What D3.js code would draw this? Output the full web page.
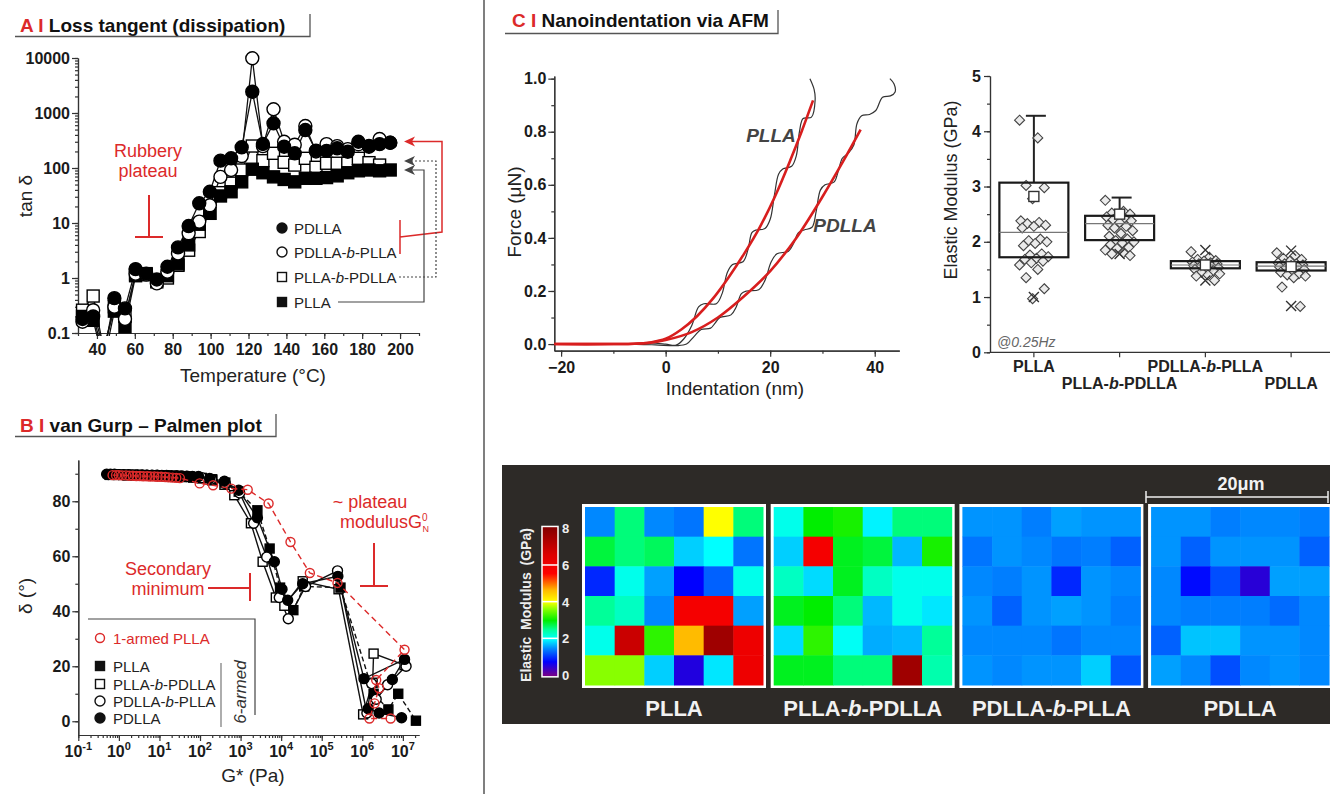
<!DOCTYPE html>
<html>
<head>
<meta charset="utf-8">
<title>Loss tangent, vGP plot and AFM nanoindentation</title>
<script src="https://cdn.jsdelivr.net/npm/d3@7/dist/d3.min.js"></script>
<style>
  body { margin: 0; background: #fff; }
  svg { font-family: "Liberation Sans", Arial, Helvetica, sans-serif; display: block; }
</style>
</head>
<body>
<svg id="fig" width="1330" height="794"></svg>
<script>
// ---------- A: loss tangent vs temperature ----------
const tempC = [32.4, 38, 43.6, 49.2, 54.8, 60.4, 66, 71.6, 77.2, 82.8, 88.4, 94, 99.6, 105.2, 110.8,
  116.4, 122, 127.6, 133.2, 138.8, 144.4, 150, 155.6, 161.2, 166.8, 172.4, 178, 183.6, 189.2, 194.8];
const tanPDLLA = [0.18, 0.2, 0.04, 0.43, 0.28, 1.45, 1.2, 0.94, 1.6, 3.6, 8.8, 22.8, 37, 136, 150,
  238, 2440, 273, 650, 244, 185, 490, 207, 205, 228, 198, 300, 244, 272, 288];
const tanPDLLAbPLLA = [0.16, 0.26, 0.05, 0.3, 0.18, 1.2, 1.15, 0.8, 1.3, 2.8, 6.5, 10.6, 21, 69, 92,
  165, 9900, 250, 1170, 300, 265, 580, 200, 272, 250, 220, 270, 251, 336, 288];
const tanPLLAbPDLLA = [0.26, 0.47, 0.05, 0.3, 0.2, 1.15, 1.15, 0.85, 1.0, 1.7, 3.2, 7, 15, 35.6, 53,
  92, 251, 136, 185, 127, 113, 150, 103, 122, 122, 122, 150, 125, 113, null];
const tanPLLA = [0.2, 0.17, 0.03, 0.25, 0.13, 1.1, 1.2, 0.9, 1.1, 1.8, 4, 9.5, 15, 31, 37,
  56, 95, 82, 69, 62, 56, 65, 65, 67, 72, 82, 89, 92, 89, 92];
const tempTicks = [40, 60, 80, 100, 120, 140, 160, 180, 200];
const tanTicks = [0.1, 1, 10, 100, 1000, 10000];

// ---------- B: van Gurp-Palmen ----------
const vgpOneArmG = [0.7, 0.85, 1.0, 1.2, 1.5, 1.8, 2.2, 2.7, 3.3, 4, 5, 6, 7.5, 9, 11, 14, 17, 21, 26, 32,
  98, 210, 590, 1500, 4900, 17000, 51000, 245000, 1.1e7, 2.2e6, 2.6e6, 2.0e6, 1.5e6, 5.0e6];
const vgpOneArmD = [89.5, 89.5, 89.5, 89.4, 89.4, 89.3, 89.3, 89.2, 89.2, 89.1, 89.1, 89, 89, 88.9, 88.9,
  88.8, 88.7, 88.6, 88.5, 88.4, 86.5, 85.8, 84.6, 84.2, 79.2, 65.2, 53.9, 50.3, 26, 15, 12, 6.5, 1, 1];
const vgpPDLLAG = [0.5, 0.62, 0.78, 1.0, 1.3, 1.7, 2.2, 2.9, 3.8, 5, 6.6, 8.7, 11.5, 15, 20, 27, 36, 48, 65,
  92, 172, 400, 900, 2600, 6800, 10500, 14500, 34000, 250000, 1.1e6, 1.1e7, 5.5e6, 1.4e6, 2.6e6, 9.3e6];
const vgpPDLLAD = [89.8, 89.8, 89.8, 89.7, 89.7, 89.7, 89.6, 89.6, 89.6, 89.5, 89.5, 89.5, 89.4, 89.4, 89.3,
  89.3, 89.2, 89.1, 89, 89, 88.3, 87.3, 84, 74, 58, 48, 44, 50, 52.7, 15.5, 22.5, 15.2, 4.6, 3, 1.3];
const vgpPDLLAbPLLAG = [0.55, 0.75, 1.0, 1.4, 1.9, 2.6, 3.5, 4.8, 6.5, 9, 12, 17, 24, 33, 46, 65, 110, 190,
  420, 950, 2100, 4400, 9000, 15000, 40000, 245000, 1.3e6, 1.7e6, 2.2e6, 4.2e6, 1.2e7];
const vgpPDLLAbPLLAD = [89.7, 89.7, 89.7, 89.6, 89.6, 89.6, 89.5, 89.5, 89.4, 89.4, 89.3, 89.3, 89.2, 89.1,
  89.0, 88.9, 88.6, 88.0, 86.5, 83, 72, 59.7, 45, 37.3, 49, 54.7, 3, 13.7, 8, 13.3, 20];
const vgpPLLAbPDLLAG = [0.6, 1.0, 1.6, 2.5, 4, 6.5, 10, 16, 26, 42, 68, 110, 200, 400, 700, 1800, 3500,
  7400, 12000, 34000, 260000, 1.05e6, 1.8e6, 1.9e6, 1.1e7];
const vgpPLLAbPDLLAD = [89.6, 89.6, 89.5, 89.5, 89.4, 89.3, 89.2, 89.1, 89, 88.8, 88.6, 88.3, 87.6, 86,
  82.2, 72, 58, 45, 42, 50.9, 48, 2.5, 14, 24.6, 20.4];
const vgpPLLAG = [0.6, 1.0, 1.6, 2.5, 4, 6.5, 10, 16, 26, 42, 68, 110, 200, 420, 900, 2600, 5200, 9400,
  20000, 37000, 290000, 1.9e6, 4.4e6, 7.7e6, 2.1e7];
const vgpPLLAD = [89.6, 89.6, 89.5, 89.5, 89.4, 89.4, 89.3, 89.2, 89.1, 89, 88.8, 88.5, 88, 86.8, 83.5,
  76.7, 62.8, 48.6, 40.4, 49, 48.6, 10, 4.3, 10, 0.2];
const deltaTicks = [0, 20, 40, 60, 80];
const gTicks = [1e-1, 1e0, 1e1, 1e2, 1e3, 1e4, 1e5, 1e6, 1e7];

// ---------- C: force curves ----------
const rawPLLAx = [-21, -8, -3, 0, 2, 3.5, 5, 6.3, 7.3, 9.7, 10.8, 11.8, 12.8, 14.8, 15.8, 16.5, 17.3, 19,
  20, 20.8, 21.6, 22.4, 24.1, 25, 25.6, 26.3, 27.9, 28.6, 28.4, 27.6];
const rawPLLAy = [0, 0, 0.004, 0.0, -0.004, 0.02, 0.07, 0.14, 0.152, 0.152, 0.19, 0.27, 0.3, 0.31, 0.36,
  0.42, 0.43, 0.435, 0.47, 0.56, 0.64, 0.66, 0.67, 0.71, 0.8, 0.85, 0.855, 0.92, 0.96, 1.0];
const rawPDLLAx = [-21, -8, -2, 2, 4, 5.5, 6.8, 8.6, 9.5, 10.4, 12.5, 13.5, 14.5, 15.5, 17.8, 19, 20.2,
  21.3, 23.5, 24.5, 25.4, 26.5, 28, 28.8, 29.6, 30.5, 32.2, 33, 33.8, 35, 36, 36.6, 37.5, 39, 40.2, 41.5,
  43, 43.9, 43.7, 42.9];
const rawPDLLAy = [0, 0, -0.003, -0.006, 0.0, 0.03, 0.055, 0.06, 0.08, 0.1, 0.11, 0.14, 0.19, 0.2, 0.205,
  0.24, 0.31, 0.34, 0.35, 0.38, 0.42, 0.43, 0.44, 0.5, 0.58, 0.6, 0.61, 0.65, 0.7, 0.72, 0.75, 0.83, 0.86,
  0.865, 0.88, 0.93, 0.935, 0.95, 0.98, 1.0];
const fitPLLAx = [-21.3, -10, -6, -3, 0, 3, 6, 9, 12, 15, 18, 21, 24, 26, 28.2];
const fitPLLAy = [0, 0, 0.001, 0.006, 0.02, 0.055, 0.105, 0.17, 0.25, 0.34, 0.44, 0.56, 0.7, 0.8, 0.918];
const fitPDLLAx = [-21.3, -10, -6, -3, 0, 5, 10, 15, 20, 25, 30, 34, 37.3];
const fitPDLLAy = [0, 0, 0.001, 0.005, 0.015, 0.045, 0.1, 0.18, 0.275, 0.4, 0.555, 0.69, 0.808];
const indentTicks = [-20, 0, 20, 40];
const forceTicks = [0, 0.2, 0.4, 0.6, 0.8, 1.0];

// ---------- C: elastic modulus box plot ----------
const boxCats = ['PLLA', 'PLLA-b-PDLLA', 'PDLLA-b-PLLA', 'PDLLA'];
const boxQ1 = [1.72, 2.03, 1.52, 1.48];
const boxMed = [2.17, 2.33, 1.58, 1.56];
const boxQ3 = [3.07, 2.47, 1.65, 1.63];
const boxTop = [4.28, 2.8, null, null];
const boxMean = [2.82, 2.5, 1.58, 1.55];
const boxCross = [[1.0], [1.78], [1.85, 1.3], [1.84, 0.84]];
const modPLLA = [4.2, 3.88, 3.02, 2.98, 2.78, 2.38, 2.35, 2.33, 2.3, 2.28, 2.25, 2.05, 2.02, 2.0, 1.97, 1.93,
  1.78, 1.76, 1.73, 1.7, 1.68, 1.65, 1.62, 1.58, 1.5, 1.35, 1.15, 0.97];
const modPLLAbPDLLA = [2.75, 2.55, 2.52, 2.5, 2.48, 2.45, 2.42, 2.4, 2.38, 2.35, 2.3, 2.28, 2.25, 2.2, 2.15,
  2.1, 2.05, 2.02, 2.0, 1.98, 1.95, 1.9, 1.88, 1.85, 1.8, 1.78, 1.75];
const modPDLLAbPLLA = [1.82, 1.72, 1.68, 1.66, 1.65, 1.63, 1.62, 1.6, 1.6, 1.58, 1.57, 1.55, 1.55, 1.53,
  1.52, 1.5, 1.48, 1.45, 1.42, 1.4, 1.38, 1.3];
const modPDLLA = [1.8, 1.75, 1.7, 1.68, 1.65, 1.62, 1.6, 1.6, 1.58, 1.57, 1.55, 1.55, 1.53, 1.5, 1.48,
  1.45, 1.42, 1.4, 1.38, 1.35, 1.18, 0.83];
const modTicks = [0, 1, 2, 3, 4, 5];

// ---------- C: modulus maps (GPa, 6x6, rows top to bottom) ----------
const mapPLLA = [
  [1.5, 2.6, 1.5, 1.4, 4.0, 2.6],
  [2.8, 2.6, 2.7, 1.8, 2.0, 1.4],
  [1.0, 2.1, 1.6, 0.8, 1.3, 2.1],
  [2.5, 2.3, 1.5, 5.8, 5.8, 1.6],
  [2.1, 6.8, 3.2, 4.6, 7.5, 6.0],
  [3.6, 3.6, 1.8, 0.6, 1.9, 6.0]];
const mapPLLAbPDLLA = [
  [2.1, 3.0, 3.1, 1.95, 2.6, 2.6],
  [1.8, 5.8, 2.9, 2.8, 1.7, 3.1],
  [2.3, 1.85, 2.9, 2.3, 2.1, 2.1],
  [2.9, 3.0, 2.6, 1.7, 2.1, 1.9],
  [1.85, 3.2, 2.05, 1.65, 1.7, 2.5],
  [2.9, 2.9, 2.6, 2.6, 7.5, 2.4]];
const mapPDLLAbPLLA = [
  [1.55, 1.55, 1.45, 1.6, 1.55, 1.55],
  [1.4, 1.55, 1.5, 1.4, 1.45, 1.3],
  [1.5, 1.45, 1.55, 1.0, 1.55, 1.5],
  [1.55, 1.3, 1.55, 1.6, 1.55, 1.45],
  [1.5, 1.5, 1.5, 1.4, 1.5, 1.5],
  [1.55, 1.5, 1.55, 1.55, 1.8, 1.25]];
const mapPDLLA = [
  [1.55, 1.55, 1.45, 1.5, 1.5, 1.45],
  [1.55, 1.3, 1.55, 1.55, 1.55, 1.3],
  [1.5, 0.85, 1.2, 0.55, 1.6, 1.6],
  [1.5, 1.45, 1.45, 1.45, 1.35, 1.5],
  [1.3, 1.75, 1.75, 1.55, 1.55, 1.5],
  [1.6, 1.5, 1.2, 1.5, 1.55, 1.5]];
const mapNames = ['PLLA', 'PLLA-b-PDLLA', 'PDLLA-b-PLLA', 'PDLLA'];
const cmapStops = [0, 0.8, 1.5, 2.0, 2.5, 3.0, 3.6, 4.0, 4.6, 5.5, 6.5, 8];
const cmapColors = ['#800080', '#0000ff', '#0088ff', '#00ffff', '#00ff99', '#00ee00', '#88ff00',
  '#ffff00', '#ffbb00', '#ff0000', '#dd0000', '#800000'];
const cbarTicks = [0, 2, 4, 6, 8];

const RED = '#dc2a2a';
const svg = d3.select('#fig');
const defs = svg.append('defs');

// ---------- helpers ----------
function styleAxis(g, size, weight) {
  g.attr('font-family', null).attr('font-size', null);
  g.selectAll('text').style('font-size', size + 'px').style('font-weight', weight || 'bold').attr('fill', '#1a1a1a');
  g.selectAll('line, path').attr('stroke', '#333').attr('stroke-width', 1.2);
}

function richName(t, name) {
  const i = name.indexOf('-b-');
  if (i < 0) { t.text(name); return t; }
  t.append('tspan').text(name.slice(0, i) + '-');
  t.append('tspan').style('font-style', 'italic').text('b');
  t.append('tspan').text('-' + name.slice(i + 3));
  return t;
}

function marker(g, shape, filled, x, y, s, color, openFill) {
  color = color || '#000';
  const fill = filled ? color : (openFill || '#fff');
  if (shape === 'circle') {
    g.append('circle').attr('cx', x).attr('cy', y).attr('r', s / 2)
      .attr('fill', fill).attr('stroke', color).attr('stroke-width', 1.4);
  } else {
    g.append('rect').attr('x', x - s / 2).attr('y', y - s / 2).attr('width', s).attr('height', s)
      .attr('fill', fill).attr('stroke', color).attr('stroke-width', 1.4);
  }
}

function panelTitle(letter, text, x, y, size, lineY, x1, x2, tickTop) {
  const t = svg.append('text').attr('x', x).attr('y', y)
    .style('font-size', size + 'px').style('font-weight', 'bold');
  t.append('tspan').attr('fill', RED).text(letter + ' I ');
  t.append('tspan').attr('fill', '#111').text(text);
  svg.append('path').attr('d', `M${x1},${lineY}H${x2}V${tickTop}`)
    .attr('fill', 'none').attr('stroke', '#555').attr('stroke-width', 1.3);
}

function arrowHead(g, x, y, color) {
  g.append('path').attr('d', `M${x},${y}L${x + 11},${y - 5}L${x + 8},${y}L${x + 11},${y + 5}Z`).attr('fill', color);
}

// divider
svg.append('line').attr('x1', 484).attr('x2', 484).attr('y1', 0).attr('y2', 794)
  .attr('stroke', '#555').attr('stroke-width', 1.5);

// =================== Panel A ===================
panelTitle('A', 'Loss tangent (dissipation)', 20, 32, 19, 36.5, 15, 310, 14);
const gA = svg.append('g');
const xA = d3.scaleLinear().domain([30, 210]).range([78, 419]);
const yA = d3.scaleLog().domain([0.1, 10000]).range([333, 58]);

gA.append('g').attr('transform', 'translate(0,333)')
  .call(d3.axisBottom(xA).tickValues(xA.ticks(18)).tickSize(3).tickFormat('').tickSizeOuter(0))
  .call(styleAxis, 16);
gA.append('g').attr('transform', 'translate(0,333)')
  .call(d3.axisBottom(xA).tickValues(tempTicks).tickSize(6).tickPadding(5).tickSizeOuter(0))
  .call(styleAxis, 16);
gA.append('g').attr('transform', 'translate(78,0)')
  .call(d3.axisLeft(yA).tickValues(yA.ticks()).tickSize(3).tickFormat('').tickSizeOuter(0))
  .call(styleAxis, 16);
gA.append('g').attr('transform', 'translate(78,0)')
  .call(d3.axisLeft(yA).tickValues(tanTicks).tickSize(6).tickPadding(2).tickFormat(d => String(d)).tickSizeOuter(0))
  .call(styleAxis, 16);

gA.append('text').attr('x', 253).attr('y', 382).attr('text-anchor', 'middle')
  .style('font-size', '19px').attr('fill', '#222').text('Temperature (°C)');
gA.append('text').attr('transform', 'translate(32,196) rotate(-90)').attr('text-anchor', 'middle')
  .style('font-size', '19px').attr('fill', '#222').text('tan δ');

defs.append('clipPath').attr('id', 'clipA').append('rect')
  .attr('x', 70).attr('y', 40).attr('width', 360).attr('height', 296);

const seriesA = [
  { name: 'PLLA-b-PDLLA', vals: tanPLLAbPDLLA, shape: 'square', filled: false },
  { name: 'PLLA', vals: tanPLLA, shape: 'square', filled: true },
  { name: 'PDLLA-b-PLLA', vals: tanPDLLAbPLLA, shape: 'circle', filled: false },
  { name: 'PDLLA', vals: tanPDLLA, shape: 'circle', filled: true }
];
const plotA = gA.append('g').attr('clip-path', 'url(#clipA)');
const lineA = d3.line().defined(d => d[1] != null).x(d => xA(d[0])).y(d => yA(d[1]));
seriesA.forEach(s => {
  plotA.append('path').datum(tempC.map((t, i) => [t, s.vals[i]]))
    .attr('d', lineA).attr('fill', 'none').attr('stroke', '#111').attr('stroke-width', 1.3);
});
seriesA.forEach(s => {
  tempC.forEach((t, i) => {
    const v = s.vals[i];
    if (v == null || v < 0.1) return;
    marker(plotA, s.shape, s.filled, xA(t), yA(v), s.shape === 'circle' ? 13 : 12);
  });
});

// legend A
const legA = [
  { name: 'PDLLA', shape: 'circle', filled: true, y: 228 },
  { name: 'PDLLA-b-PLLA', shape: 'circle', filled: false, y: 252 },
  { name: 'PLLA-b-PDLLA', shape: 'square', filled: false, y: 277 },
  { name: 'PLLA', shape: 'square', filled: true, y: 302 }
];
legA.forEach(l => {
  marker(gA, l.shape, l.filled, 282, l.y, l.shape === 'circle' ? 10 : 9, '#111');
  richName(gA.append('text').attr('x', 294).attr('y', l.y + 5.5).style('font-size', '15px').attr('fill', '#222'), l.name);
});
// bracket/arrow connectors
gA.append('path').attr('d', 'M400,220V254M400,237L442,232V141.5H412')
  .attr('fill', 'none').attr('stroke', RED).attr('stroke-width', 1.5);
arrowHead(gA, 404, 141.5, RED);
gA.append('path').attr('d', 'M399,277H436V161H412')
  .attr('fill', 'none').attr('stroke', '#444').attr('stroke-width', 1.2).attr('stroke-dasharray', '2,2');
arrowHead(gA, 404, 161, '#444');
gA.append('path').attr('d', 'M338,302H424V170H412')
  .attr('fill', 'none').attr('stroke', '#444').attr('stroke-width', 1.2);
arrowHead(gA, 404, 170, '#444');

// rubbery plateau
gA.append('text').attr('x', 148).attr('y', 157).attr('text-anchor', 'middle')
  .style('font-size', '18px').attr('fill', RED).text('Rubbery');
gA.append('text').attr('x', 148).attr('y', 177).attr('text-anchor', 'middle')
  .style('font-size', '18px').attr('fill', RED).text('plateau');
gA.append('path').attr('d', 'M149,195V237M135,237H163')
  .attr('fill', 'none').attr('stroke', RED).attr('stroke-width', 2);

// =================== Panel B ===================
panelTitle('B', 'van Gurp – Palmen plot', 20, 432, 19, 436.5, 15, 276, 414);
const gB = svg.append('g');
const xB = d3.scaleLog().domain([0.1, 2.5e7]).range([78.3, 419]);
const yB = d3.scaleLinear().domain([-5, 95]).range([735, 460]);

gB.append('g').attr('transform', 'translate(0,735)')
  .call(d3.axisBottom(xB).tickValues(xB.ticks()).tickSize(3).tickFormat('').tickSizeOuter(0))
  .call(styleAxis, 16);
gB.append('g').attr('transform', 'translate(0,735)')
  .call(d3.axisBottom(xB).tickValues(gTicks).tickSize(6).tickFormat('').tickSizeOuter(0))
  .call(styleAxis, 16);
gB.selectAll('.glab').data(gTicks).join('text').attr('class', 'glab')
  .attr('x', d => xB(d)).attr('y', 757).attr('text-anchor', 'middle')
  .style('font-size', '16px').style('font-weight', 'bold').attr('fill', '#1a1a1a')
  .each(function (d) {
    const t = d3.select(this);
    t.append('tspan').text('10');
    t.append('tspan').attr('dy', -7).style('font-size', '11px').text(Math.round(Math.log10(d)));
  });
gB.append('g').attr('transform', 'translate(78.3,0)')
  .call(d3.axisLeft(yB).tickValues(yB.ticks(10).filter(d => d >= 0)).tickSize(3).tickFormat('').tickSizeOuter(0))
  .call(styleAxis, 16);
gB.append('g').attr('transform', 'translate(78.3,0)')
  .call(d3.axisLeft(yB).tickValues(deltaTicks).tickSize(6).tickPadding(2).tickSizeOuter(0))
  .call(styleAxis, 16);
gB.append('text').attr('x', 253).attr('y', 782).attr('text-anchor', 'middle')
  .style('font-size', '19px').attr('fill', '#222').text('G* (Pa)');
gB.append('text').attr('transform', 'translate(32,596) rotate(-90)').attr('text-anchor', 'middle')
  .style('font-size', '19px').attr('fill', '#222').text('δ (°)');

const seriesB = [
  { G: vgpPLLAbPDLLAG, D: vgpPLLAbPDLLAD, shape: 'square', filled: false, dash: null, size: 9 },
  { G: vgpPLLAG, D: vgpPLLAD, shape: 'square', filled: true, dash: '5,3', size: 9 },
  { G: vgpPDLLAbPLLAG, D: vgpPDLLAbPLLAD, shape: 'circle', filled: false, dash: null, size: 10 },
  { G: vgpPDLLAG, D: vgpPDLLAD, shape: 'circle', filled: true, dash: null, size: 10 }
];
const lineB = d3.line().x(d => xB(d[0])).y(d => yB(d[1]));
seriesB.forEach(s => {
  gB.append('path').datum(s.G.map((g, i) => [g, s.D[i]])).attr('d', lineB)
    .attr('fill', 'none').attr('stroke', '#111').attr('stroke-width', 1.4)
    .attr('stroke-dasharray', s.dash);
});
seriesB.forEach(s => {
  s.G.forEach((g, i) => marker(gB, s.shape, s.filled, xB(g), yB(s.D[i]), s.size));
});
gB.append('path').datum(vgpOneArmG.map((g, i) => [g, vgpOneArmD[i]])).attr('d', lineB)
  .attr('fill', 'none').attr('stroke', RED).attr('stroke-width', 1.4).attr('stroke-dasharray', '6,4');
vgpOneArmG.forEach((g, i) => marker(gB, 'circle', false, xB(g), yB(vgpOneArmD[i]), 9, RED, 'none'));

// legend B
gB.append('path').attr('d', 'M88,619H255V715').attr('fill', 'none').attr('stroke', '#444').attr('stroke-width', 1.2);
marker(gB, 'circle', false, 100, 638, 9, RED, 'none');
gB.append('text').attr('x', 113).attr('y', 643.5).style('font-size', '15px').attr('fill', RED).text('1-armed PLLA');
const legB = [
  { name: 'PLLA', shape: 'square', filled: true, y: 666 },
  { name: 'PLLA-b-PDLLA', shape: 'square', filled: false, y: 684 },
  { name: 'PDLLA-b-PLLA', shape: 'circle', filled: false, y: 701 },
  { name: 'PDLLA', shape: 'circle', filled: true, y: 718 }
];
legB.forEach(l => {
  marker(gB, l.shape, l.filled, 100, l.y, l.shape === 'circle' ? 10 : 9, '#111');
  richName(gB.append('text').attr('x', 113).attr('y', l.y + 5.5).style('font-size', '15px').attr('fill', '#222'), l.name);
});
gB.append('line').attr('x1', 221).attr('x2', 221).attr('y1', 663).attr('y2', 727).attr('stroke', '#777').attr('stroke-width', 1.2);
gB.append('text').attr('transform', 'translate(246,692) rotate(-90)').attr('text-anchor', 'middle')
  .style('font-size', '17px').style('font-style', 'italic').attr('fill', '#333').text('6-armed');

// annotations B
gB.append('text').attr('x', 168).attr('y', 575).attr('text-anchor', 'middle')
  .style('font-size', '18px').attr('fill', RED).text('Secondary');
gB.append('text').attr('x', 168).attr('y', 595).attr('text-anchor', 'middle')
  .style('font-size', '18px').attr('fill', RED).text('minimum');
gB.append('path').attr('d', 'M208,588H250M250,573V601')
  .attr('fill', 'none').attr('stroke', RED).attr('stroke-width', 2);
gB.append('text').attr('x', 370).attr('y', 508).attr('text-anchor', 'middle')
  .style('font-size', '18px').attr('fill', RED).text('~ plateau');
const mod = gB.append('text').attr('x', 340).attr('y', 528).style('font-size', '18px').attr('fill', RED);
mod.append('tspan').text('modulusG');
mod.append('tspan').attr('dy', -7).style('font-size', '10px').text('0');
mod.append('tspan').attr('dy', 11).attr('dx', -5).style('font-size', '9px').text('N');
gB.append('path').attr('d', 'M374,543V586M360,586H388')
  .attr('fill', 'none').attr('stroke', RED).attr('stroke-width', 2);

// =================== Panel C: force curves ===================
panelTitle('C', 'Nanoindentation via AFM', 512, 27, 19, 33.5, 505, 778, 10);
const gC = svg.append('g');
const xC = d3.scaleLinear().domain([-21.3, 44.7]).range([554.3, 899.3]);
const yC = d3.scaleLinear().domain([-0.025, 1.01]).range([350.7, 76]);
gC.append('g').attr('transform', 'translate(0,350.7)')
  .call(d3.axisBottom(xC).tickValues(xC.ticks(7)).tickSize(3).tickFormat('').tickSizeOuter(0))
  .call(styleAxis, 16);
gC.append('g').attr('transform', 'translate(0,350.7)')
  .call(d3.axisBottom(xC).tickValues(indentTicks).tickSize(6).tickPadding(5).tickSizeOuter(0))
  .call(styleAxis, 16);
gC.append('g').attr('transform', 'translate(554.3,0)')
  .call(d3.axisLeft(yC).tickValues(yC.ticks(10).filter(d => d >= 0)).tickSize(3).tickFormat('').tickSizeOuter(0))
  .call(styleAxis, 16);
gC.append('g').attr('transform', 'translate(554.3,0)')
  .call(d3.axisLeft(yC).tickValues(forceTicks).tickSize(6).tickPadding(2).tickFormat(d3.format('.1f')).tickSizeOuter(0))
  .call(styleAxis, 16);
gC.append('text').attr('x', 735).attr('y', 395).attr('text-anchor', 'middle')
  .style('font-size', '19px').attr('fill', '#222').text('Indentation (nm)');
gC.append('text').attr('transform', 'translate(521,212) rotate(-90)').attr('text-anchor', 'middle')
  .style('font-size', '19px').attr('fill', '#222').text('Force (μN)');

const lineC = d3.line().x(d => xC(d[0])).y(d => yC(d[1])).curve(d3.curveCatmullRom.alpha(0.5));
[[rawPLLAx, rawPLLAy], [rawPDLLAx, rawPDLLAy]].forEach(([xs, ys]) => {
  gC.append('path').datum(xs.map((x, i) => [x, ys[i]])).attr('d', lineC)
    .attr('fill', 'none').attr('stroke', '#333').attr('stroke-width', 1.2);
});
[[fitPLLAx, fitPLLAy], [fitPDLLAx, fitPDLLAy]].forEach(([xs, ys]) => {
  gC.append('path').datum(xs.map((x, i) => [x, ys[i]])).attr('d', lineC)
    .attr('fill', 'none').attr('stroke', '#d81e1e').attr('stroke-width', 2.6);
});
gC.append('text').attr('x', 771).attr('y', 142).attr('text-anchor', 'middle')
  .style('font-size', '19px').style('font-weight', 'bold').style('font-style', 'italic').attr('fill', '#444').text('PLLA');
gC.append('text').attr('x', 845).attr('y', 232).attr('text-anchor', 'middle')
  .style('font-size', '19px').style('font-weight', 'bold').style('font-style', 'italic').attr('fill', '#444').text('PDLLA');

// =================== Panel C: box plot ===================
const gD = svg.append('g');
const xD = d3.scaleBand().domain(boxCats).range([991, 1334]);
const yD = d3.scaleLinear().domain([0, 5]).range([352.3, 76]);
gD.append('g').attr('transform', 'translate(990,0)')
  .call(d3.axisLeft(yD).tickValues(yD.ticks(10)).tickSize(3).tickFormat('').tickSizeOuter(0))
  .call(styleAxis, 16);
gD.append('g').attr('transform', 'translate(990,0)')
  .call(d3.axisLeft(yD).tickValues(modTicks).tickSize(6).tickPadding(3).tickFormat(d3.format('d')).tickSizeOuter(0))
  .call(styleAxis, 16);
const xAxD = gD.append('g').attr('transform', 'translate(0,352.3)')
  .call(d3.axisBottom(xD).tickSize(5).tickFormat('').tickSizeOuter(0))
  .call(styleAxis, 16);
xAxD.select('.domain').attr('d', 'M-1,0H340').attr('transform', 'translate(991,0)');
boxCats.forEach((c, i) => {
  const t = gD.append('text').attr('x', xD(c) + xD.bandwidth() / 2).attr('y', i % 2 ? 389 : 372)
    .attr('text-anchor', 'middle').style('font-size', '16px').style('font-weight', 'bold').attr('fill', '#222');
  richName(t, c);
});
gD.append('text').attr('transform', 'translate(957,190) rotate(-90)').attr('text-anchor', 'middle')
  .style('font-size', '18px').attr('fill', '#222').text('Elastic Modulus (GPa)');
gD.append('text').attr('x', 997).attr('y', 347).style('font-size', '14px').style('font-style', 'italic')
  .attr('fill', '#666').text('@0.25Hz');

const modSets = [modPLLA, modPLLAbPDLLA, modPDLLAbPLLA, modPDLLA];
const boxW = 69;
boxCats.forEach((c, i) => {
  const cx = xD(c) + xD.bandwidth() / 2;
  if (boxTop[i] != null) {
    gD.append('line').attr('x1', cx).attr('x2', cx).attr('y1', yD(boxQ3[i])).attr('y2', yD(boxTop[i]))
      .attr('stroke', '#222').attr('stroke-width', 2);
    gD.append('line').attr('x1', cx - 8).attr('x2', cx + 12).attr('y1', yD(boxTop[i])).attr('y2', yD(boxTop[i]))
      .attr('stroke', '#222').attr('stroke-width', 2);
  }
  modSets[i].forEach((v, k) => {
    const dx = ((k * 37) % 23 - 11) * 1.3;
    gD.append('path').attr('transform', `translate(${cx + dx},${yD(v)})`)
      .attr('d', 'M0,-5L5,0L0,5L-5,0Z').attr('fill', '#e8e8e8').attr('fill-opacity', 0.85)
      .attr('stroke', '#444').attr('stroke-width', 1.1);
  });
  gD.append('rect').attr('x', cx - boxW / 2).attr('y', yD(boxQ3[i])).attr('width', boxW)
    .attr('height', yD(boxQ1[i]) - yD(boxQ3[i])).attr('fill', 'none').attr('stroke', '#1a1a1a').attr('stroke-width', 2.2);
  gD.append('line').attr('x1', cx - boxW / 2).attr('x2', cx + boxW / 2).attr('y1', yD(boxMed[i])).attr('y2', yD(boxMed[i]))
    .attr('stroke', '#777').attr('stroke-width', 1.2);
  gD.append('rect').attr('x', cx - 5).attr('y', yD(boxMean[i]) - 5).attr('width', 10).attr('height', 10)
    .attr('fill', '#fff').attr('stroke', '#333').attr('stroke-width', 1.4);
  boxCross[i].forEach(v => {
    gD.append('path').attr('transform', `translate(${cx},${yD(v)})`).attr('d', 'M-5,-5L5,5M-5,5L5,-5')
      .attr('stroke', '#333').attr('stroke-width', 1.4);
  });
});

// =================== Panel C: modulus maps ===================
const gE = svg.append('g');
gE.append('rect').attr('x', 502).attr('y', 465).attr('width', 828).attr('height', 259).attr('fill', '#2d2a27');
const cmap = d3.scaleLinear().domain(cmapStops).range(cmapColors).interpolate(d3.interpolateRgb).clamp(true);

// colorbar
const yCb = d3.scaleLinear().domain([0, 8]).range([675, 528.3]);
const grad = defs.append('linearGradient').attr('id', 'cbGrad').attr('x1', 0).attr('y1', 1).attr('x2', 0).attr('y2', 0);
cmapStops.forEach((s, i) => grad.append('stop').attr('offset', s / 8).attr('stop-color', cmapColors[i]));
gE.append('rect').attr('x', 542).attr('y', yCb(8.1)).attr('width', 16).attr('height', yCb(-0.1) - yCb(8.1))
  .attr('fill', 'url(#cbGrad)').attr('stroke', '#fff').attr('stroke-width', 1.5);
[2, 4, 6].forEach(v => {
  gE.append('line').attr('x1', 542).attr('x2', 558).attr('y1', yCb(v)).attr('y2', yCb(v))
    .attr('stroke', '#fff').attr('stroke-width', 1.5);
});
cbarTicks.forEach(v => {
  gE.append('text').attr('x', 562).attr('y', yCb(v) + 5).style('font-size', '13px').style('font-weight', 'bold')
    .attr('fill', '#eee').text(v);
});
gE.append('text').attr('transform', 'translate(531,605) rotate(-90)').attr('text-anchor', 'middle')
  .style('font-size', '14px').style('font-weight', 'bold').style('word-spacing', '3px')
  .attr('fill', '#eee').text('Elastic Modulus (GPa)');

const maps = [mapPLLA, mapPLLAbPDLLA, mapPDLLAbPLLA, mapPDLLA];
const xPanel = d3.scaleBand().domain(mapNames).range([582, 1333]).paddingInner(0.02);
maps.forEach((grid, p) => {
  const left = xPanel(mapNames[p]);
  const size = 184;
  const top = 504;
  const cx = d3.scaleBand().domain(d3.range(6)).range([left + 3, left + size - 3]);
  const cy = d3.scaleBand().domain(d3.range(6)).range([top + 3, top + size - 3]);
  gE.append('rect').attr('x', left).attr('y', top).attr('width', size).attr('height', size)
    .attr('fill', '#fff');
  grid.forEach((row, r) => row.forEach((v, c) => {
    gE.append('rect').attr('x', cx(c)).attr('y', cy(r)).attr('width', cx.bandwidth() + 0.5)
      .attr('height', cy.bandwidth() + 0.5).attr('fill', cmap(v));
  }));
  richName(gE.append('text').attr('x', left + size / 2).attr('y', 716).attr('text-anchor', 'middle')
    .style('font-size', '22px').style('font-weight', 'bold').attr('fill', '#f2f2f2'), mapNames[p]);
});
// scale bar
gE.append('path').attr('d', 'M1146,491V503M1146,497H1328M1328,491V503')
  .attr('fill', 'none').attr('stroke', '#eee').attr('stroke-width', 1.5);
gE.append('text').attr('x', 1241).attr('y', 490).attr('text-anchor', 'middle')
  .style('font-size', '18px').style('font-weight', 'bold').attr('fill', '#f2f2f2').text('20μm');
</script>
</body>
</html>
